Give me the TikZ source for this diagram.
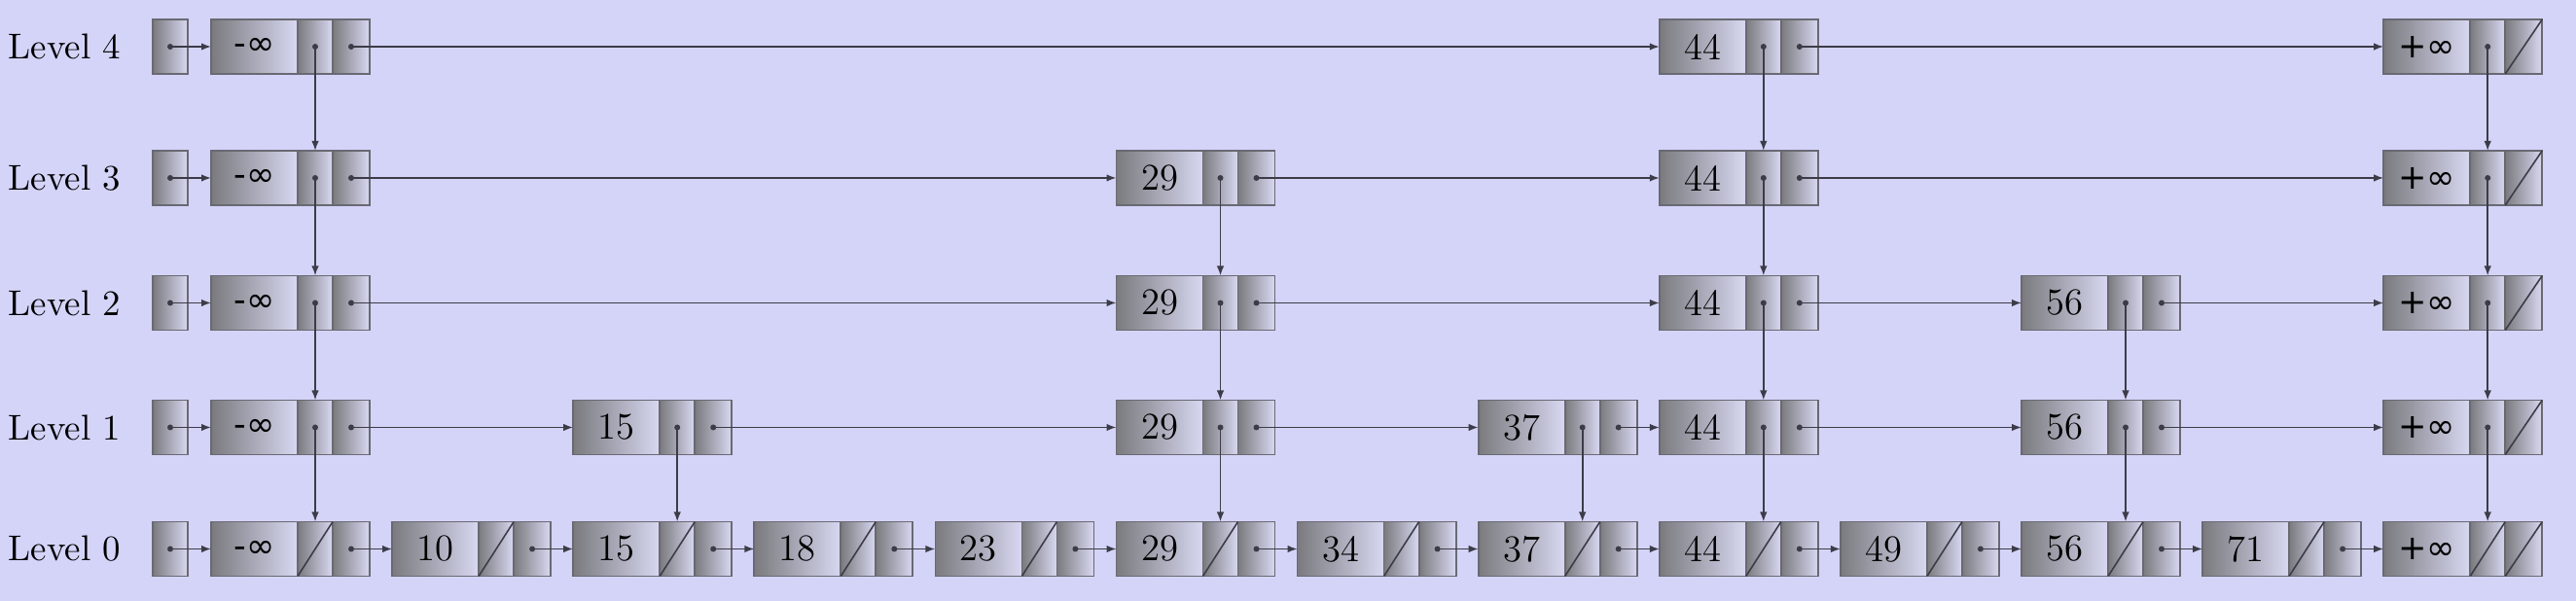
\documentclass[tikz,border=0pt]{standalone}
\usepackage{fontspec}
\usepackage{tikz}
\usetikzlibrary{positioning,arrows.meta}
\newfontfamily\infont{DejaVu Sans}
\definecolor{bgblue}{RGB}{212,212,249}
\definecolor{celldark}{RGB}{122,122,126}
\definecolor{celllight}{RGB}{216,216,242}
\definecolor{celledge}{RGB}{105,105,115}
\definecolor{linkgray}{RGB}{60,60,72}
\tikzset{
  cell/.style={draw=celledge, line width=0.5pt, left color=celldark, right color=celllight,
    minimum height=0.56cm, inner sep=0pt, outer sep=0pt},
  keycell/.style={cell, minimum width=0.89cm, anchor=west, font=\fontsize{11}{13}\selectfont},
  downcell/.style={cell, minimum width=0.36cm},
  nextcell/.style={cell, minimum width=0.38cm},
  headcell/.style={cell, minimum width=0.36cm},
  link/.style={draw=linkgray, line width=0.45pt, -{Latex[length=1mm,width=0.75mm]}},
  nullptr/.style={draw=linkgray, line width=0.45pt},
  lvllabel/.style={anchor=west, inner sep=0pt, font=\fontsize{10.5}{12}\selectfont},
}
\newcommand{\infkey}[1]{{\infont\fontsize{10}{12}\selectfont #1∞}}
\newcommand{\keylabel}[1]{\ifcase#1 \infkey{-}\or 10\or 15\or 18\or 23\or 29\or 34\or 37\or 44\or 49\or 56\or 71\or \infkey{+}\fi}
\newcommand{\skiplevel}[3]{%
  % label and head pointer
  \node[lvllabel] (lab#1) at (0.08,#2) {Level #1};
  \node[headcell, alias=n#1-h-n] (head#1) at (1.75,#2) {};
  % towers on this level
  \foreach \c in {#3} {
    \node[keycell] (n#1-\c) at ({2.17+1.861*\c},#2) {\keylabel{\c}};
    \node[downcell, right=0pt of n#1-\c] (n#1-\c-d) {};
    \node[nextcell, right=0pt of n#1-\c-d] (n#1-\c-n) {};
  }
  % next pointers
  \foreach \c [remember=\c as \p (initially h)] in {#3} {
    \fill[linkgray] (n#1-\p-n.center) circle (0.03);
    \draw[link] (n#1-\p-n.center) -- (n#1-\c.west);
  }
}

\begin{document}
\begin{tikzpicture}
\fill[bgblue] (0,0) rectangle (26.48,6.18);
\useasboundingbox (0,0) rectangle (26.48,6.18);

\skiplevel{4}{5.70}{0,8,12}
\skiplevel{3}{4.35}{0,5,8,12}
\skiplevel{2}{3.065}{0,5,8,10,12}
\skiplevel{1}{1.785}{0,2,5,7,8,10,12}
\skiplevel{0}{0.535}{0,1,...,12}

% null pointers
\foreach \c in {0,...,12}
  \draw[nullptr] (n0-\c-d.south west) -- (n0-\c-d.north east);
\foreach \l in {0,...,4}
  \draw[nullptr] (n\l-12-n.south west) -- (n\l-12-n.north east);

% down pointers
\foreach \l/\m/\cols in {4/3/{0,8,12}, 3/2/{0,5,8,12}, 2/1/{0,5,8,10,12}, 1/0/{0,2,5,7,8,10,12}} {
  \foreach \c in \cols {
    \fill[linkgray] (n\l-\c-d.center) circle (0.03);
    \draw[link] (n\l-\c-d.center) -- (n\m-\c-d.north);
  }
}
\end{tikzpicture}
\end{document}
